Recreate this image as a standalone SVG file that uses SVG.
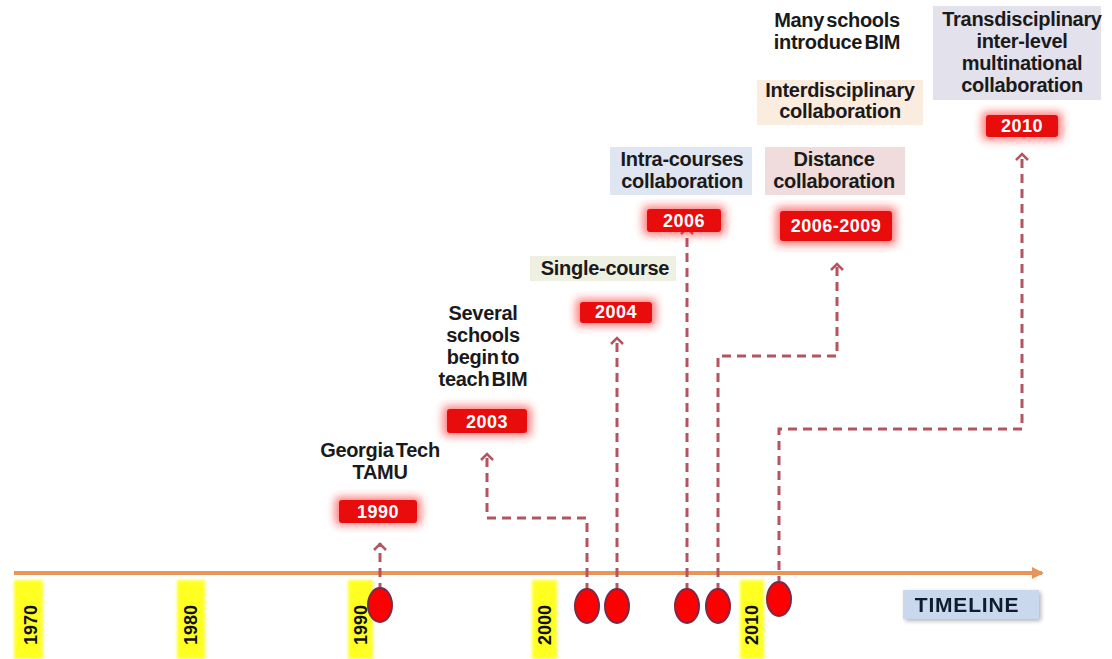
<svg xmlns="http://www.w3.org/2000/svg" width="1112" height="659" viewBox="0 0 1112 659">
<defs>
<style>
.lbl{font-family:"Liberation Sans",Arial,sans-serif;font-weight:bold;font-size:20px;fill:#1a1a1a;text-anchor:middle;letter-spacing:-0.3px;word-spacing:-3px}
.date{font-family:"Liberation Sans",Arial,sans-serif;font-weight:bold;font-size:18px;fill:#ffffff;text-anchor:middle;letter-spacing:0.5px}
.yr{font-family:"Liberation Sans",Arial,sans-serif;font-weight:bold;font-size:18px;fill:#111;text-anchor:middle;dominant-baseline:central}
.box{fill:#e80c0c}
.glow{fill:#ff2020;opacity:0.6;filter:url(#blur)}
.con{fill:none;stroke:#b35560;stroke-width:3;stroke-dasharray:9 6}
.dot{fill:#ff0000;stroke:#7a2a4a;stroke-width:2}
.ybar{fill:#ffff20;filter:url(#soft)}
</style>
<filter id="blur" x="-30%" y="-50%" width="160%" height="200%"><feGaussianBlur stdDeviation="4"/></filter>
<filter id="soft" x="-20%" y="-5%" width="140%" height="110%"><feGaussianBlur stdDeviation="1.5"/></filter>
<filter id="shadow" x="-10%" y="-20%" width="130%" height="150%"><feGaussianBlur in="SourceAlpha" stdDeviation="2"/><feOffset dx="2" dy="2"/><feComponentTransfer><feFuncA type="linear" slope="0.3"/></feComponentTransfer><feMerge><feMergeNode/><feMergeNode in="SourceGraphic"/></feMerge></filter>
<marker id="arr" viewBox="0 0 12 14" refX="10" refY="7" markerWidth="12" markerHeight="14" markerUnits="userSpaceOnUse" orient="auto">
<polyline points="3,1 9,7 3,13" fill="none" stroke="#b35560" stroke-width="2.5"/>
</marker>
<marker id="tl" viewBox="0 0 12 12" refX="10" refY="6" markerWidth="12" markerHeight="12" markerUnits="userSpaceOnUse" orient="auto">
<path d="M0,0 L12,6 L0,12 Z" fill="#e8955a"/>
</marker>
</defs>
<rect width="1112" height="659" fill="#ffffff"/>

<g id="axis">
<rect class="ybar" x="14" y="580" width="29" height="79"/>
<rect class="ybar" x="177" y="580" width="28" height="79"/>
<rect class="ybar" x="348" y="580" width="25" height="79"/>
<rect class="ybar" x="532" y="580" width="25" height="79"/>
<rect class="ybar" x="740" y="580" width="24" height="79"/>
<text class="yr" transform="translate(31,625) rotate(-90)">1970</text>
<text class="yr" transform="translate(191,625) rotate(-90)">1980</text>
<text class="yr" transform="translate(361,625) rotate(-90)">1990</text>
<text class="yr" transform="translate(545,625) rotate(-90)">2000</text>
<text class="yr" transform="translate(752,625) rotate(-90)">2010</text>
<line x1="14" y1="573" x2="1042" y2="573" stroke="#e8955a" stroke-width="4" marker-end="url(#tl)"/>
<g id="timeline-label" filter="url(#shadow)">
<rect x="903" y="590" width="136" height="29" fill="#c9d8ec"/>
<text x="967" y="612" font-family="Liberation Sans, Arial, sans-serif" font-weight="bold" font-size="21" fill="#111a2e" text-anchor="middle" letter-spacing="0.8">TIMELINE</text>
</g>
</g>

<g id="connectors">
<path class="con" d="M380,592 V543" marker-end="url(#arr)"/>
<path class="con" d="M587,592 V518 H487 V453" marker-end="url(#arr)"/>
<path class="con" d="M617,592 V337" marker-end="url(#arr)"/>
<path class="con" d="M687,592 V227" marker-end="url(#arr)"/>
<path class="con" d="M718,592 V356 H837 V263" marker-end="url(#arr)"/>
<path class="con" d="M779,585 V429 H1022 V153" marker-end="url(#arr)"/>
</g>

<g id="dots">
<ellipse class="dot" cx="380" cy="605" rx="12" ry="17"/>
<ellipse class="dot" cx="587" cy="606" rx="12" ry="17"/>
<ellipse class="dot" cx="617" cy="606" rx="12" ry="17"/>
<ellipse class="dot" cx="687" cy="606" rx="12" ry="17"/>
<ellipse class="dot" cx="718" cy="606" rx="12" ry="17"/>
<ellipse class="dot" cx="779" cy="599" rx="12" ry="17"/>
</g>

<g id="n1990">
<rect x="308" y="436" width="144" height="48" fill="#ffffff"/>
<text class="lbl" x="380" y="457">Georgia Tech</text>
<text class="lbl" x="380" y="479">TAMU</text>
<rect class="glow" x="335" y="497" width="86" height="28" rx="4"/>
<rect class="box" x="339" y="500" width="78" height="23" rx="3"/>
<text class="date" x="378" y="518">1990</text>
</g>

<g id="n2003">
<text class="lbl" x="483" y="320">Several</text>
<text class="lbl" x="483" y="342">schools</text>
<text class="lbl" x="483" y="364">begin to</text>
<text class="lbl" x="483" y="386">teach BIM</text>
<rect class="glow" x="443" y="406" width="88" height="30" rx="4"/>
<rect class="box" x="447" y="409" width="80" height="24" rx="3"/>
<text class="date" x="487" y="428">2003</text>
</g>

<g id="n2004">
<rect x="530" y="256" width="146" height="25" fill="#eef0e2"/>
<text class="lbl" x="605" y="275">Single-course</text>
<rect class="glow" x="576" y="299" width="80" height="27" rx="4"/>
<rect class="box" x="580" y="302" width="72" height="21" rx="3"/>
<text class="date" x="616" y="318">2004</text>
</g>

<g id="n2006">
<rect x="610" y="147" width="142" height="48" fill="#dfe5f1"/>
<text class="lbl" x="682" y="166">Intra-courses</text>
<text class="lbl" x="682" y="188">collaboration</text>
<rect class="glow" x="643" y="206" width="82" height="29" rx="4"/>
<rect class="box" x="647" y="209" width="74" height="23" rx="3"/>
<text class="date" x="684" y="227">2006</text>
</g>

<g id="n2006-2009">
<rect x="765" y="147" width="140" height="48" fill="#f0dcdc"/>
<text class="lbl" x="834" y="166">Distance</text>
<text class="lbl" x="834" y="188">collaboration</text>
<rect class="glow" x="776" y="207" width="120" height="38" rx="4"/>
<rect class="box" x="780" y="211" width="112" height="30" rx="3"/>
<text class="date" x="836" y="232">2006-2009</text>
<rect x="757" y="80" width="166" height="45" fill="#fbece0"/>
<text class="lbl" x="840" y="97">Interdisciplinary</text>
<text class="lbl" x="840" y="118">collaboration</text>
<text class="lbl" x="837" y="27">Many schools</text>
<text class="lbl" x="837" y="49">introduce BIM</text>
</g>

<g id="n2010">
<rect x="933" y="6" width="168" height="94" fill="#e2e1ec"/>
<text class="lbl" x="1022" y="26">Transdisciplinary</text>
<text class="lbl" x="1022" y="48">inter-level</text>
<text class="lbl" x="1022" y="70">multinational</text>
<text class="lbl" x="1022" y="92">collaboration</text>
<rect class="glow" x="982" y="112" width="80" height="28" rx="4"/>
<rect class="box" x="986" y="115" width="72" height="22" rx="3"/>
<text class="date" x="1022" y="132">2010</text>
</g>
</svg>
